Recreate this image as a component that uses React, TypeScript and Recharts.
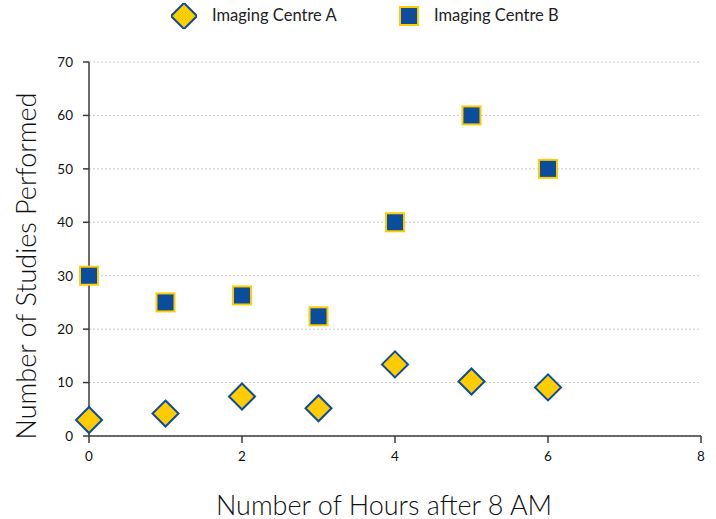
import React from 'react';
import {
  ScatterChart,
  Scatter,
  XAxis,
  YAxis,
  CartesianGrid,
  Legend,
} from 'recharts';

const hours = [0, 1, 2, 3, 4, 5, 6];
const centreA = [3, 4.2, 7.4, 5.2, 13.4, 10.2, 9.1];
const centreB = [30, 25, 26.3, 22.4, 40, 60, 50];
const xTicks = [0, 2, 4, 6, 8];
const yTicks = [0, 10, 20, 30, 40, 50, 60, 70];

const dataA = hours.map((h, i) => ({ x: h, y: centreA[i] }));
const dataB = hours.map((h, i) => ({ x: h, y: centreB[i] }));

const YELLOW = '#FFCC00';
const BLUE = '#0B4C9C';
const FONT = 'Lato, "Open Sans", sans-serif';

const Diamond = ({ cx, cy }: any) => {
  const r = 13;
  return (
    <polygon
      points={`${cx},${cy - r} ${cx + r},${cy} ${cx},${cy + r} ${cx - r},${cy}`}
      fill={YELLOW}
      stroke={BLUE}
      strokeWidth={2}
    />
  );
};

const Square = ({ cx, cy }: any) => {
  const s = 9;
  return (
    <rect x={cx - s} y={cy - s} width={s * 2} height={s * 2} fill={BLUE} stroke={YELLOW} strokeWidth={2} />
  );
};

const LegendBox = () => (
  <div style={{ position: 'relative', height: 34, fontFamily: FONT, fontSize: 16.5, color: '#222' }}>
    <svg width={26} height={26} style={{ position: 'absolute', left: 171, top: 3 }}>
      <Diamond cx={13} cy={13} />
    </svg>
    <span style={{ position: 'absolute', left: 212, top: 5 }}>Imaging Centre A</span>
    <svg width={22} height={22} style={{ position: 'absolute', left: 398, top: 5 }}>
      <Square cx={11} cy={11} />
    </svg>
    <span style={{ position: 'absolute', left: 434, top: 5 }}>Imaging Centre B</span>
  </div>
);

const YTitle = () => {
  const cy = 266;
  return (
    <text
      x={25}
      y={cy}
      transform={`rotate(-90, 25, ${cy})`}
      textAnchor="middle"
      dominantBaseline="central"
      fontFamily={FONT}
      fontWeight={300}
      fontSize={27}
      fill="#111"
    >
      Number of Studies Performed
    </text>
  );
};

const XTitle = () => (
  <text
    x={384}
    y={504}
    textAnchor="middle"
    dominantBaseline="central"
    fontFamily={FONT}
    fontWeight={300}
    fontSize={27}
    fill="#111"
  >
    Number of Hours after 8 AM
  </text>
);

export default function App() {
  return (
    <div style={{ position: 'absolute', left: 0, top: 0, width: 716, height: 519, background: '#fff' }}>
      <ScatterChart width={716} height={519} margin={{ top: 28, right: 15, bottom: 0, left: 0 }}>
        <CartesianGrid vertical={false} stroke="#c8c8c8" strokeDasharray="2 2" />
        <Legend
          verticalAlign="top"
          align="left"
          content={<LegendBox />}
          wrapperStyle={{ top: 0, left: 0, width: 716 }}
        />
        <XAxis
          type="number"
          dataKey="x"
          domain={[0, 8]}
          ticks={xTicks}
          height={83}
          tickSize={7}
          tickMargin={8}
          stroke="#3a3a3a"
          strokeWidth={1.5}
          tick={{ fill: '#111', fontSize: 13.5, fontFamily: FONT }}
          label={<XTitle />}
        />
        <YAxis
          type="number"
          dataKey="y"
          domain={[0, 70]}
          ticks={yTicks}
          width={89}
          tickSize={6}
          tickMargin={10}
          stroke="#3a3a3a"
          strokeWidth={1.5}
          tick={{ fill: '#111', fontSize: 13.5, fontFamily: FONT }}
          label={<YTitle />}
        />
        <Scatter name="Imaging Centre A" data={dataA} shape={<Diamond />} isAnimationActive={false} />
        <Scatter name="Imaging Centre B" data={dataB} shape={<Square />} isAnimationActive={false} />
      </ScatterChart>
    </div>
  );
}
